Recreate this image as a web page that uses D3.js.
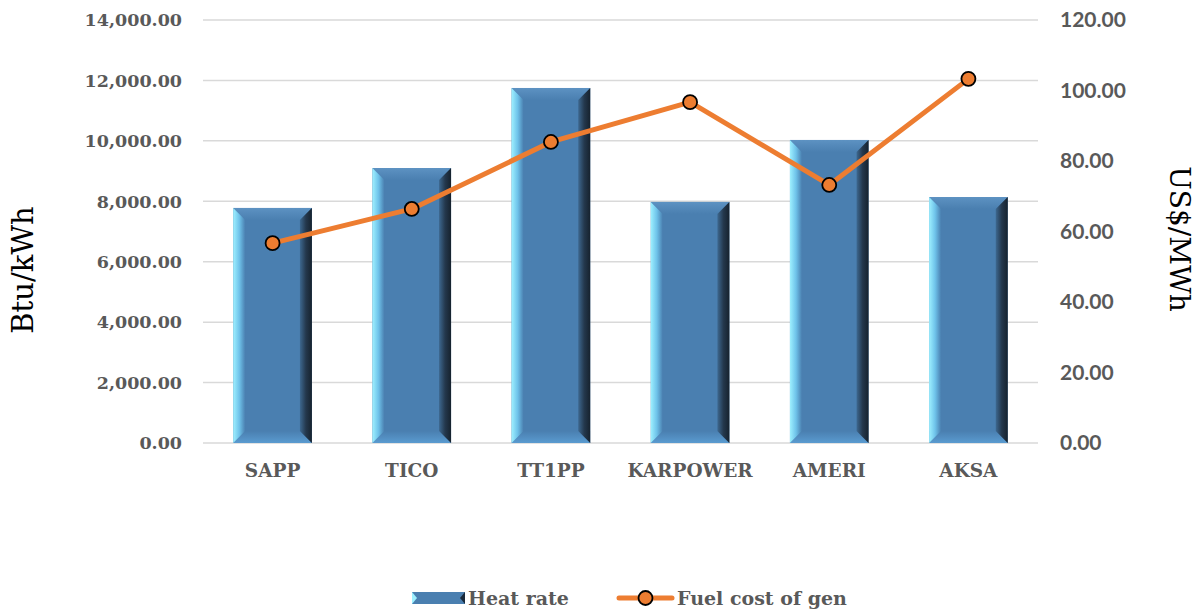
<!DOCTYPE html>
<html><head><meta charset="utf-8">
<script src="https://cdn.jsdelivr.net/npm/d3@7"></script>
<style>body{margin:0;background:#fff}</style>
</head><body>
<svg id="c" width="1204" height="614"></svg>
<script>
const categories = ["SAPP","TICO","TT1PP","KARPOWER","AMERI","AKSA"];
const heatRate = [7780, 9100, 11750, 7980, 10030, 8140];
const fuelCost = [56.7, 66.4, 85.4, 96.7, 73.2, 103.3];
const leftTicks = [0,2000,4000,6000,8000,10000,12000,14000];
const rightTicks = [0,20,40,60,80,100,120];

const svg = d3.select("#c");
const L = 203, R = 1038, T = 20, B = 443;
const serif = "'DejaVu Serif',serif";
const x = d3.scaleBand().domain(categories).range([L,R]).paddingInner(0.435).paddingOuter(0.2175);
const yL = d3.scaleLinear().domain([0,14000]).range([B,T]);
const yR = d3.scaleLinear().domain([0,120]).range([B,T]);

const defs = svg.append("defs");
const gl = defs.append("linearGradient").attr("id","gl").attr("x1",0).attr("x2",1).attr("y1",0).attr("y2",0);
gl.append("stop").attr("offset",0).attr("stop-color","#9ef0ff");
gl.append("stop").attr("offset",0.5).attr("stop-color","#6fc3ea");
gl.append("stop").attr("offset",1).attr("stop-color","#4a7fb0");
const gr = defs.append("linearGradient").attr("id","gr").attr("x1",0).attr("x2",1).attr("y1",0).attr("y2",0);
gr.append("stop").attr("offset",0).attr("stop-color","#3d6890");
gr.append("stop").attr("offset",0.5).attr("stop-color","#24384d");
gr.append("stop").attr("offset",1).attr("stop-color","#16222e");
const gt = defs.append("linearGradient").attr("id","gt").attr("x1",0).attr("x2",0).attr("y1",0).attr("y2",1);
gt.append("stop").attr("offset",0).attr("stop-color","#5d92c2");
gt.append("stop").attr("offset",1).attr("stop-color","#4a7fb0");
const gb = defs.append("linearGradient").attr("id","gb").attr("x1",0).attr("x2",0).attr("y1",0).attr("y2",1);
gb.append("stop").attr("offset",0).attr("stop-color","#4a7fb0");
gb.append("stop").attr("offset",1).attr("stop-color","#5a9bd0");

// gridlines
svg.append("g").selectAll("line").data(leftTicks).join("line")
  .attr("x1",L).attr("x2",R).attr("y1",d=>yL(d)).attr("y2",d=>yL(d))
  .attr("stroke","#d9d9d9").attr("stroke-width",1.5);

// left axis labels
svg.append("g").selectAll("text").data(leftTicks).join("text")
  .attr("x",182).attr("y",d=>yL(d)).attr("dy","0.36em").attr("text-anchor","end")
  .attr("font-family",serif).attr("font-weight","bold").attr("font-size",17.5)
  .attr("fill","#595959").text(d=>d3.format(",.2f")(d));

// right axis labels
svg.append("g").selectAll("text").data(rightTicks).join("text")
  .attr("x",1060).attr("y",d=>yR(d)).attr("dy","0.35em").attr("text-anchor","start")
  .attr("font-family","Lato,'Open Sans',sans-serif").attr("font-weight","bold").attr("font-size",21)
  .attr("fill","#595959").text(d=>d3.format(".2f")(d));

// axis titles
svg.append("text").attr("transform","translate(33,270) rotate(-90)").attr("text-anchor","middle")
  .attr("font-family",serif).attr("font-size",29).attr("fill","#000").text("Btu/kWh");
svg.append("text").attr("transform","translate(1170,239) rotate(90)").attr("text-anchor","middle")
  .attr("font-family",serif).attr("font-size",28).attr("fill","#000").text("US$/MWh");

// bars
const bev = 12;
const bars = svg.append("g").selectAll("g").data(categories.map((c,i)=>({c,v:heatRate[i]}))).join("g");
bars.each(function(d){
  const g = d3.select(this);
  const x0 = x(d.c), w = x.bandwidth(), y0 = yL(d.v), y1 = yL(0);
  g.append("rect").attr("x",x0).attr("y",y0).attr("width",w).attr("height",y1-y0).attr("fill","#4a7fb0");
  g.append("path").attr("d",`M${x0},${y0}L${x0+w},${y0}L${x0+w-bev},${y0+bev}L${x0+bev},${y0+bev}Z`).attr("fill","url(#gt)");
  g.append("path").attr("d",`M${x0},${y1}L${x0+w},${y1}L${x0+w-bev},${y1-bev}L${x0+bev},${y1-bev}Z`).attr("fill","url(#gb)");
  g.append("path").attr("d",`M${x0},${y0}L${x0+bev},${y0+bev}L${x0+bev},${y1-bev}L${x0},${y1}Z`).attr("fill","url(#gl)");
  g.append("path").attr("d",`M${x0+w},${y0}L${x0+w-bev},${y0+bev}L${x0+w-bev},${y1-bev}L${x0+w},${y1}Z`).attr("fill","url(#gr)");
});

// x labels
svg.append("g").selectAll("text").data(categories).join("text")
  .attr("x",d=>x(d)+x.bandwidth()/2).attr("y",477).attr("text-anchor","middle")
  .attr("font-family",serif).attr("font-weight","bold").attr("font-size",18.5)
  .attr("fill","#595959").text(d=>d);

// line
const pts = categories.map((c,i)=>({c,v:fuelCost[i]}));
svg.append("path").datum(pts)
  .attr("d",d3.line().x(d=>x(d.c)+x.bandwidth()/2).y(d=>yR(d.v)))
  .attr("fill","none").attr("stroke","#ed7d31").attr("stroke-width",5).attr("stroke-linejoin","round");
svg.append("g").selectAll("circle").data(pts).join("circle")
  .attr("cx",d=>x(d.c)+x.bandwidth()/2).attr("cy",d=>yR(d.v)).attr("r",7)
  .attr("fill","#ed7d31").attr("stroke","#000").attr("stroke-width",1.8);

// legend
const lg = svg.append("g");
const lx = 412, ly = 592, lw = 53, lh = 12;
lg.append("rect").attr("x",lx).attr("y",ly).attr("width",lw).attr("height",lh).attr("fill","#4a7fb0");
lg.append("path").attr("d",`M${lx},${ly}L${lx+5},${ly+lh/2}L${lx},${ly+lh}Z`).attr("fill","#9ef0ff");
lg.append("path").attr("d",`M${lx+lw},${ly}L${lx+lw-5},${ly+lh/2}L${lx+lw},${ly+lh}Z`).attr("fill","#1a2a3a");
lg.append("text").attr("x",468).attr("y",598).attr("dy","0.36em")
  .attr("font-family",serif).attr("font-weight","bold").attr("font-size",19)
  .attr("fill","#595959").text("Heat rate");
lg.append("line").attr("x1",619).attr("x2",672).attr("y1",598).attr("y2",598)
  .attr("stroke","#ed7d31").attr("stroke-width",5).attr("stroke-linecap","round");
lg.append("circle").attr("cx",645.5).attr("cy",598).attr("r",7).attr("fill","#ed7d31").attr("stroke","#000").attr("stroke-width",1.8);
lg.append("text").attr("x",677).attr("y",598).attr("dy","0.36em")
  .attr("font-family",serif).attr("font-weight","bold").attr("font-size",19)
  .attr("fill","#595959").text("Fuel cost of gen");
</script>
</body></html>
